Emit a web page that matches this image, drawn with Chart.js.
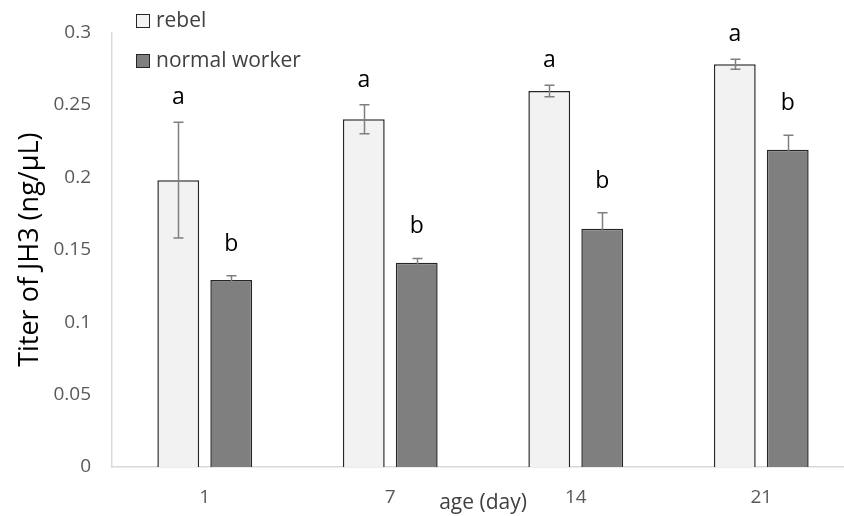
<!DOCTYPE html>
<html><head><meta charset="utf-8">
<script src="https://cdn.jsdelivr.net/npm/chart.js@4.4.0/dist/chart.umd.min.js"></script>
<style>
html,body{margin:0;padding:0;background:#fff;overflow:hidden}
#wrap{width:844px;height:516px;overflow:hidden;position:relative}
#wrap canvas{display:block}
</style></head><body>
<div id="wrap"><canvas id="c" width="862" height="516" style="width:862px;height:516px"></canvas></div>
<script>
const categories = ['1', '7', '14', '21'];
const seriesNames = ['rebel', 'normal worker'];
const rebelValues = [0.198, 0.240, 0.2595, 0.278];
const rebelErrors = [0.040, 0.010, 0.004, 0.0035];
const workerValues = [0.129, 0.141, 0.1645, 0.219];
const workerErrors = [0.003, 0.003, 0.011, 0.010];
const rebelLetters = ['a', 'a', 'a', 'a'];
const workerLetters = ['b', 'b', 'b', 'b'];
const yTicks = [0, 0.05, 0.1, 0.15, 0.2, 0.25, 0.3];
const xTitle = 'age (day)';
const yTitle = 'Titer of JH3 (ng/\u03bcL)';

const FONT = '"Open Sans", Lato, sans-serif';
const seriesErrors = [rebelErrors, workerErrors];
const seriesLetters = [rebelLetters, workerLetters];
const letterBaselineOffset = [18, 25];

const annotate = {
  id: 'annotate',
  afterDatasetsDraw(chart) {
    const ctx = chart.ctx;
    const y = chart.scales.y;
    chart.data.datasets.forEach((ds, di) => {
      const meta = chart.getDatasetMeta(di);
      meta.data.forEach((el, i) => {
        const v = ds.data[i], e = seriesErrors[di][i];
        const yt = y.getPixelForValue(v + e), yb = y.getPixelForValue(v - e);
        const x = Math.round(el.x) + 0.5;
        ctx.save();
        ctx.strokeStyle = '#7f7f7f';
        ctx.lineWidth = 1.5;
        ctx.beginPath();
        ctx.moveTo(x, yt); ctx.lineTo(x, yb);
        ctx.moveTo(x - 5, yt); ctx.lineTo(x + 5, yt);
        ctx.moveTo(x - 5, yb); ctx.lineTo(x + 5, yb);
        ctx.stroke();
        ctx.fillStyle = '#000';
        ctx.font = '23px ' + FONT;
        ctx.textAlign = 'center';
        ctx.textBaseline = 'alphabetic';
        ctx.fillText(seriesLetters[di][i], el.x, yt - letterBaselineOffset[di]);
        ctx.restore();
      });
    });
  },
  afterDraw(chart) {
    const ctx = chart.ctx;
    const area = chart.chartArea;
    ctx.save();
    // legend
    chart.data.datasets.forEach((ds, di) => {
      const cy = 21 + di * 40;
      ctx.fillStyle = ds.backgroundColor;
      ctx.strokeStyle = '#262626';
      ctx.lineWidth = 1;
      ctx.fillRect(136, cy - 7, 14, 14);
      ctx.strokeRect(136.5, cy - 6.5, 13, 13);
      ctx.fillStyle = '#404040';
      ctx.font = '21px ' + FONT;
      ctx.textAlign = 'left';
      ctx.textBaseline = 'middle';
      ctx.fillText(ds.label, 156, cy);
    });
    // axis titles
    ctx.fillStyle = '#404040';
    ctx.font = '21px ' + FONT;
    ctx.textAlign = 'center';
    ctx.textBaseline = 'middle';
    ctx.fillText(xTitle, (area.left + area.right) / 2, 503);
    ctx.translate(30, (area.top + area.bottom) / 2);
    ctx.rotate(-Math.PI / 2);
    ctx.fillStyle = '#000';
    ctx.font = '27px ' + FONT;
    ctx.fillText(yTitle, 0, 0);
    ctx.restore();
  }
};

new Chart(document.getElementById('c'), {
  type: 'bar',
  data: {
    labels: categories,
    datasets: [
      { label: seriesNames[0], data: rebelValues, backgroundColor: '#f2f2f2', borderColor: '#262626', borderWidth: 1.5 },
      { label: seriesNames[1], data: workerValues, backgroundColor: '#7f7f7f', borderColor: '#262626', borderWidth: 1.5 }
    ]
  },
  options: {
    responsive: false,
    animation: false,
    devicePixelRatio: 1,
    layout: { padding: { top: 28, right: 8, left: 0, bottom: 0 } },
    datasets: { bar: { categoryPercentage: 0.571, barPercentage: 0.79 } },
    plugins: { legend: { display: false }, tooltip: { enabled: false } },
    scales: {
      x: {
        grid: { display: false, drawTicks: false },
        border: { color: '#d9d9d9', width: 1.5 },
        ticks: { color: '#595959', font: { family: FONT, size: 19 }, padding: 19 },
        afterFit(s) { s.height = 49; }
      },
      y: {
        min: 0, max: 0.3,
        afterBuildTicks(s) { s.ticks = yTicks.map(v => ({ value: v })); },
        grid: { display: false, drawTicks: false },
        border: { color: '#d9d9d9', width: 1.5 },
        ticks: { color: '#595959', font: { family: FONT, size: 19 }, padding: 21, callback: v => String(v) },
        afterFit(s) { s.width = 112; }
      }
    }
  },
  plugins: [annotate]
});
</script>
</body></html>
